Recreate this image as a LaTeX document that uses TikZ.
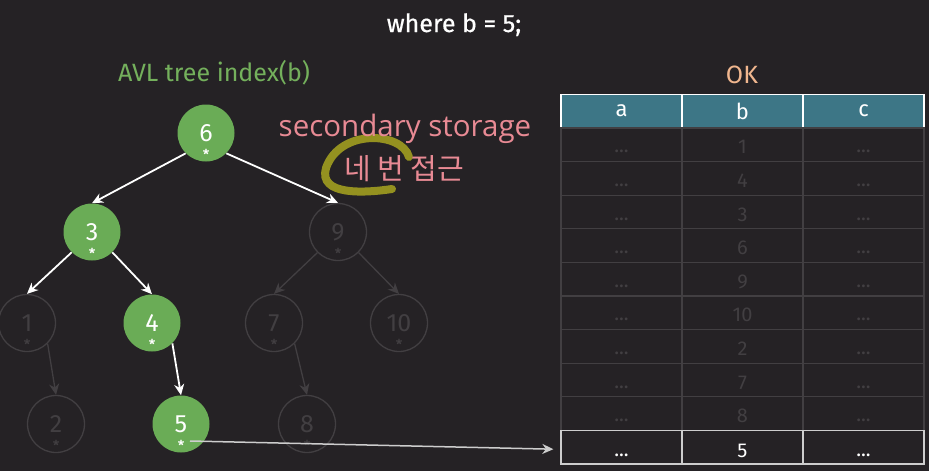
\documentclass[tikz,border=0pt]{standalone}
\usepackage{fontspec}
\setmainfont{Fira Sans}
\newfontfamily\heavyfont[FakeBold=0.6]{Fira Sans}
\newfontfamily\notefont{Open Sans}
\newfontfamily\korfont{Noto Sans CJK KR}
\usetikzlibrary{calc}
\usetikzlibrary{positioning}
\usetikzlibrary{arrows.meta}
\definecolor{bgDark}{RGB}{37,34,37}
\definecolor{avlGreen}{RGB}{106,172,86}
\definecolor{titleGreen}{RGB}{116,176,92}
\definecolor{dimLine}{RGB}{66,63,66}
\definecolor{headTeal}{RGB}{61,118,134}
\definecolor{notePink}{RGB}{232,138,148}
\definecolor{okOrange}{RGB}{240,182,142}
\definecolor{markOlive}{RGB}{148,145,32}
\definecolor{rowLight}{RGB}{205,205,205}
\tikzset{every picture/.style={semithick, >={Stealth[length=11pt,width=10pt]}}}
\newcommand{\fsz}[1]{\fontsize{#1}{#1}\selectfont}

\begin{document}
\begin{tikzpicture}[x=1pt,y=-1pt,
    avl/.style={circle, minimum size=57pt, inner sep=0pt, fill=avlGreen, text=white, font=\fsz{25},
        label={[text=white, font=\heavyfont\fsz{14}, inner sep=0pt, anchor=center, yshift=-21pt]center:*}},
    dim/.style={circle, minimum size=57pt, inner sep=0pt, draw=dimLine, line width=1.3pt, text=dimLine, font=\fsz{25},
        label={[text=dimLine, font=\heavyfont\fsz{14}, inner sep=0pt, anchor=center, yshift=-21pt]center:*}},
    cell/.style={draw=dimLine, line width=1.3pt, minimum width=121pt, minimum height=33.6pt, inner sep=0pt, text=dimLine, font=\fsz{20}},
    headcell/.style={cell, draw=white, fill=headTeal, text=white, font=\fsz{22}},
    hitcell/.style={cell, draw=rowLight, text=white}]
    \fill[bgDark] (0,0) rectangle (929,471);
    \useasboundingbox (0,0) rectangle (929,471);

    % titles
    \node[anchor=base, text=white, font=\heavyfont\fsz{25}] (cond) at (454,32) {where b = 5;};
    \node[anchor=base, text=titleGreen, font=\fsz{25}] (avltitle) at (214,81) {AVL tree index(b)};
    \node[anchor=base, text=okOrange, font=\fsz{25}] (oktitle) at (742,83) {OK};

    % tree
    \node[avl] (n6) at (206,133) {6};
    \node[avl] (n3) at (92,232) {3};
    \node[dim] (n9) at (338,232) {9};
    \node[dim] (n1) at (27,323) {1};
    \node[avl] (n4) at (152,323) {4};
    \node[dim] (n7) at (274,323) {7};
    \node[dim] (n10) at (399,323) {10};
    \node[dim] (n2) at (56,424) {2};
    \node[avl] (n5) at (181,424) {5};
    \node[dim] (n8) at (307,424) {8};
    \draw[->, white, line width=1.8pt] (n6.south west) -- (n3.north);
    \draw[->, white, line width=1.8pt] (n6.south east) -- (n9.north);
    \draw[->, white, line width=1.8pt] (n3.south west) -- (n1.north);
    \draw[->, white, line width=1.8pt] (n3.south east) -- (n4.north);
    \draw[->, white, line width=1.8pt] (n4.south east) -- (n5.north);
    \draw[->, dimLine, line width=1.3pt] (n9.south west) -- (n7.north);
    \draw[->, dimLine, line width=1.3pt] (n9.south east) -- (n10.north);
    \draw[->, dimLine, line width=1.3pt] (n1.south east) -- (n2.north);
    \draw[->, dimLine, line width=1.3pt] (n7.south east) -- (n8.north);

    % note
    \draw[markOlive, line width=8pt, line cap=round] (409,157) .. controls (402,132) and (340,128) .. (326,168)
        .. controls (318,196) and (365,193) .. (392,189);
    \node[anchor=base, text=notePink, font=\notefont\fsz{29.5}] (note) at (405,136) {secondary storage};
    \node[text=notePink, font=\korfont\fsz{29}] (visits) at (404,169) {네 번 접근};

    % table
    \node[headcell] (ha) at (621.5,111) {a};
    \node[headcell] (hb) at (742.5,111) {b};
    \node[headcell] (hc) at (863.5,111) {c};
    \foreach \v [count=\i] in {1,4,3,6,9,10,2,7,8} {
        \node[cell] (r\i a) at (621.5,{111.2+33.6*\i}) {\smash{\raisebox{-8pt}{...}}};
        \node[cell] (r\i b) at (742.5,{111.2+33.6*\i}) {\smash{\raisebox{-9pt}{\v}}};
        \node[cell] (r\i c) at (863.5,{111.2+33.6*\i}) {\smash{\raisebox{-8pt}{...}}};
    }
    \node[hitcell] (r10a) at (621.5,447.2) {\smash{\raisebox{-9pt}{...}}};
    \node[hitcell] (r10b) at (742.5,447.2) {\smash{\raisebox{-10pt}{5}}};
    \node[hitcell] (r10c) at (863.5,447.2) {\smash{\raisebox{-9pt}{...}}};

    % lookup
    \coordinate (p5) at ($(n5.center)+(9,17)$);
    \draw[->, rowLight, line width=1.5pt] (p5) -- ($(r10a.west)+(-7,2)$);
\end{tikzpicture}
\end{document}
